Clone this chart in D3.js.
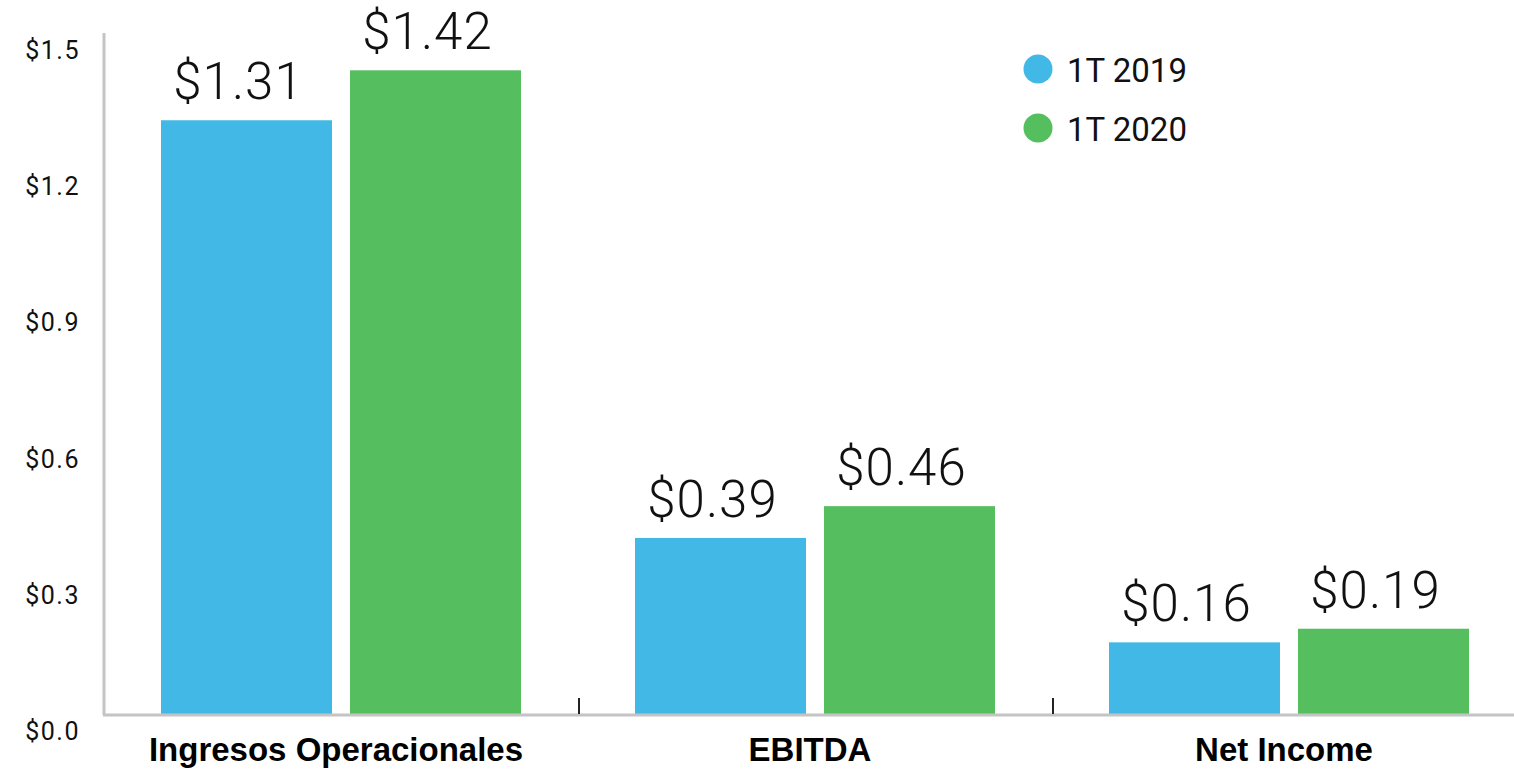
<!DOCTYPE html>
<html><head><meta charset="utf-8">
<script src="https://cdn.jsdelivr.net/npm/d3@7"></script>
<style>
body{margin:0;background:#fff;}
svg{display:block;}
</style></head>
<body>
<svg id="chart" width="1514" height="770"></svg>
<script>
const categories = ["Ingresos Operacionales", "EBITDA", "Net Income"];
const seriesNames = ["1T 2019", "1T 2020"];
const values2019 = [1.31, 0.39, 0.16];
const values2020 = [1.42, 0.46, 0.19];
const yTicks = [0, 0.3, 0.6, 0.9, 1.2, 1.5];
const colors = ["#41b8e5", "#55be5e"];

const svg = d3.select("#chart");
const font = "Roboto, 'Liberation Sans', Arial, sans-serif";

const x = d3.scaleBand().domain(categories).range([105, 1527]).padding(0);
const xs = d3.scaleBand().domain(seriesNames).range([56, 416]).paddingInner(18/189).paddingOuter(0);
const y = d3.scaleLinear().domain([0, 1.5]).range([715, 34]);

const data = categories.map((c, i) => ({cat: c, vals: [values2019[i], values2020[i]]}));

// y axis line
svg.append("line").attr("x1", 104).attr("x2", 104).attr("y1", 33).attr("y2", y(0))
  .attr("stroke", "#c4c4c4").attr("stroke-width", 3);

// y tick labels
svg.selectAll("text.ytick").data(yTicks).enter().append("text")
  .attr("class", "ytick")
  .attr("x", 80).attr("y", d => y(d) + 25)
  .attr("text-anchor", "end")
  .attr("font-family", font).attr("font-size", 25).attr("letter-spacing", 1.5).attr("fill", "#111")
  .text(d => "$" + d.toFixed(1));

// bars
const g = svg.selectAll("g.cat").data(data).enter().append("g")
  .attr("class", "cat").attr("transform", d => `translate(${x(d.cat)},0)`);

g.selectAll("rect").data(d => d.vals.map((v, j) => ({s: seriesNames[j], v, j}))).enter().append("rect")
  .attr("x", d => xs(d.s)).attr("width", xs.bandwidth())
  .attr("y", d => y(d.v)).attr("height", d => y(0) - y(d.v))
  .attr("fill", d => colors[d.j]);

g.selectAll("text.val").data(d => d.vals.map((v, j) => ({s: seriesNames[j], v, j}))).enter().append("text")
  .attr("class", "val")
  .attr("x", d => xs(d.s) + xs.bandwidth()/2 - 8).attr("y", d => y(d.v) - 21)
  .attr("text-anchor", "middle")
  .attr("font-family", font).attr("font-weight", 300).attr("font-size", 51).attr("letter-spacing", 1).attr("fill", "#111")
  .text(d => "$" + d.v.toFixed(2));

// baseline
svg.append("line").attr("x1", 103).attr("x2", 1514).attr("y1", y(0)).attr("y2", y(0))
  .attr("stroke", "#c4c4c4").attr("stroke-width", 3);

// separator ticks
svg.selectAll("line.sep").data(categories.slice(1)).enter().append("line")
  .attr("class", "sep")
  .attr("x1", d => x(d)).attr("x2", d => x(d))
  .attr("y1", y(0) - 17).attr("y2", y(0) - 1)
  .attr("stroke", "#222").attr("stroke-width", 2);

// category labels
svg.selectAll("text.cat").data(categories).enter().append("text")
  .attr("class", "cat")
  .attr("x", d => x(d) + (xs.range()[0] + xs.range()[1]) / 2 - 5)
  .attr("y", 761)
  .attr("text-anchor", "middle")
  .attr("font-family", "'Liberation Sans', Arial, sans-serif")
  .attr("font-weight", "bold").attr("font-size", 33).attr("fill", "#000")
  .text(d => d);

// legend
const lg = svg.selectAll("g.leg").data(seriesNames).enter().append("g")
  .attr("class", "leg").attr("transform", (d, i) => `translate(1038,${69 + i * 59})`);
lg.append("circle").attr("r", 14.5).attr("fill", (d, i) => colors[i]);
lg.append("text").attr("x", 29).attr("y", 13)
  .attr("font-family", font).attr("font-size", 33).attr("fill", "#111")
  .text(d => d);
</script>
</body></html>
